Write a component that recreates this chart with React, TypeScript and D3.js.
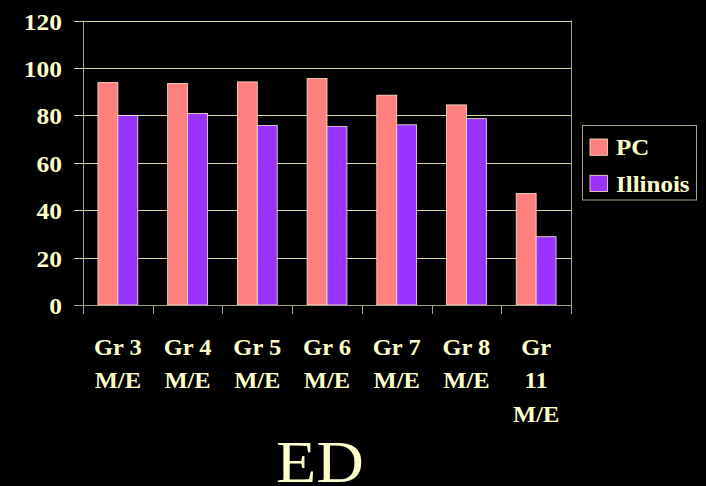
import React from "react";
import * as d3 from "d3";

const categories = [
  ["Gr 3", "M/E"],
  ["Gr 4", "M/E"],
  ["Gr 5", "M/E"],
  ["Gr 6", "M/E"],
  ["Gr 7", "M/E"],
  ["Gr 8", "M/E"],
  ["Gr", "11", "M/E"],
];
const pcValues = [93.8, 93.4, 94.1, 95.5, 88.5, 84.4, 47.0];
const illinoisValues = [79.9, 80.8, 75.7, 75.3, 76.0, 78.6, 28.8];
const seriesNames = ["PC", "Illinois"];
const seriesColors = ["#FF7F7F", "#9933FF"];
const yTicks = [0, 20, 40, 60, 80, 100, 120];
const title = "ED";

const W = 706;
const H = 486;
const plot = { left: 83, right: 571, top: 20.5, bottom: 305 };
const textColor = "#FFFFCC";
const gridColor = "#D8D8A8";
const axisColor = "#A4A486";
const font = "Liberation Serif, Times New Roman, Times, serif";
const SQ = 0.9;

export default function App() {
  const x = d3
    .scaleBand<number>()
    .domain(categories.map((_, i) => i))
    .range([plot.left, plot.right])
    .paddingInner(0)
    .paddingOuter(0);
  const y = d3.scaleLinear().domain([0, 120]).range([plot.bottom, plot.top]);
  const bw = x.bandwidth() / 3.5;
  const inner = d3
    .scaleBand<number>()
    .domain([0, 1])
    .range([bw * 0.75, bw * 2.75]);
  const series = [pcValues, illinoisValues];

  const sqText = (
    key: string,
    tx: number,
    ty: number,
    txt: string,
    size: number,
    anchor: string,
    bold: boolean
  ) => (
    <text
      key={key}
      transform={`translate(${tx},${ty}) scale(1,${SQ})`}
      style={{ fontFamily: font, fontSize: size + "px", fontWeight: bold ? 700 : 400 }}
      fill={textColor}
      textAnchor={anchor as any}
    >
      {txt}
    </text>
  );

  return (
    <svg
      width={W}
      height={H}
      style={{ position: "absolute", left: 0, top: 0, display: "block" }}
    >
      <rect x={0} y={0} width={W} height={H} fill="#000" />
      {yTicks.map((t) => (
        <line
          key={"g" + t}
          x1={plot.left - 9}
          x2={plot.right}
          y1={Math.round(y(t)) + 0.5}
          y2={Math.round(y(t)) + 0.5}
          stroke={t === 0 ? axisColor : gridColor}
          strokeWidth={1}
        />
      ))}
      <line
        x1={plot.right + 0.5}
        x2={plot.right + 0.5}
        y1={y(120)}
        y2={plot.bottom + 9}
        stroke={axisColor}
      />
      {categories.map((_, i) =>
        series.map((vals, s) => (
          <rect
            key={`b${i}-${s}`}
            x={(x(i) as number) + (inner(s) as number)}
            y={y(vals[i])}
            width={inner.bandwidth()}
            height={y(0) - y(vals[i])}
            fill={seriesColors[s]}
            stroke="#FFE8C8"
            strokeWidth={0.8}
          />
        ))
      )}
      <line
        x1={plot.left + 0.5}
        x2={plot.left + 0.5}
        y1={y(120)}
        y2={plot.bottom + 9}
        stroke={axisColor}
      />
      <line
        x1={plot.left}
        x2={plot.right}
        y1={Math.round(y(0)) + 0.5}
        y2={Math.round(y(0)) + 0.5}
        stroke={axisColor}
      />
      {categories.map((_, i) => (
        <line
          key={"xt" + i}
          x1={Math.round(x(i) as number) + 0.5}
          x2={Math.round(x(i) as number) + 0.5}
          y1={plot.bottom}
          y2={plot.bottom + 9}
          stroke={axisColor}
        />
      ))}
      {yTicks.map((t) =>
        sqText("yl" + t, 62, y(t) + 9, String(t), 25.5, "end", true)
      )}
      {categories.map((lines, i) =>
        lines.map((ln, j) =>
          sqText(
            `xl${i}-${j}`,
            (x(i) as number) + x.bandwidth() / 2,
            plot.bottom + 50 + j * 33.3,
            ln,
            24.5,
            "middle",
            true
          )
        )
      )}
      <rect
        x={582.5}
        y={125.5}
        width={114}
        height={74.5}
        fill="#000"
        stroke={axisColor}
        strokeWidth={1}
      />
      {seriesNames.map((n, s) => (
        <g key={"lg" + n}>
          <rect
            x={590}
            y={139 + s * 36.3}
            width={17.5}
            height={16.3}
            fill={seriesColors[s]}
            stroke="#FFE8C8"
            strokeWidth={0.8}
          />
          {sqText("lt" + n, 616, 155.3 + s * 36.3, n, 25, "start", true)}
        </g>
      ))}
      {sqText("title", 320, 482, title, 66, "middle", false)}
    </svg>
  );
}
